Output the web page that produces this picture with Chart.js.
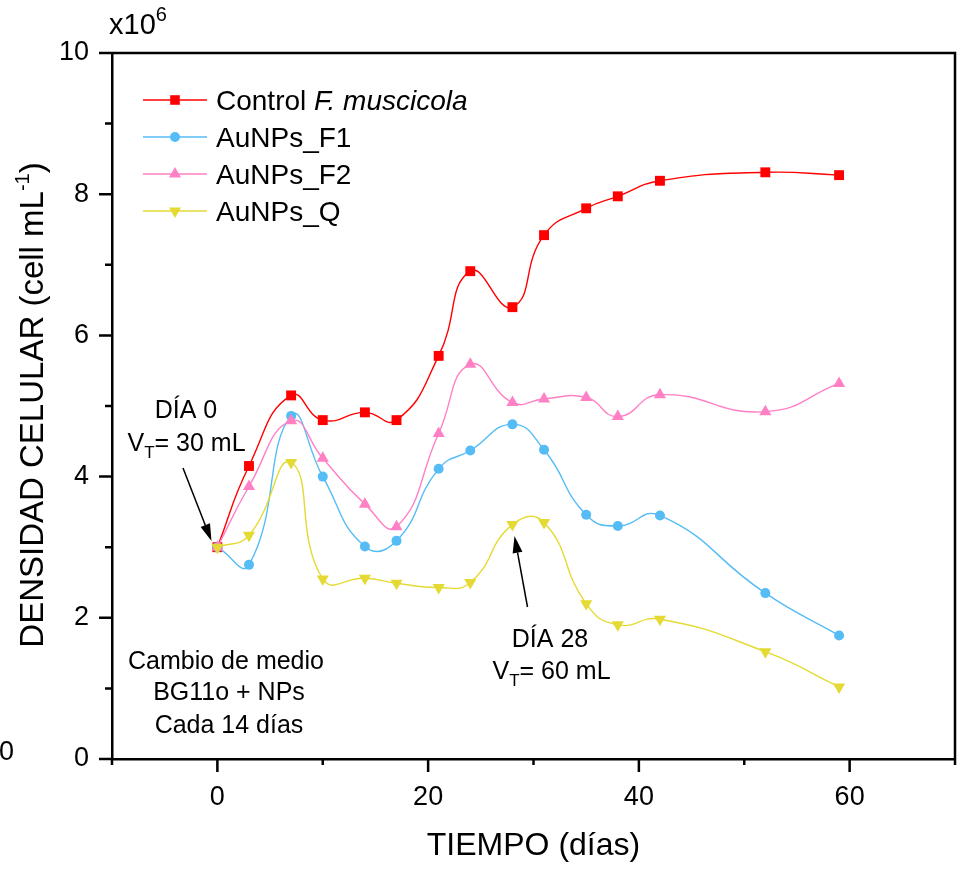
<!DOCTYPE html>
<html>
<head>
<meta charset="utf-8">
<script src="https://cdn.jsdelivr.net/npm/chart.js@4.4.0/dist/chart.umd.min.js"></script>
<style>
  html, body { margin: 0; padding: 0; background: #fff; }
  #wrap { width: 962px; height: 871px; }
</style>
</head>
<body>
<div id="wrap"><canvas id="densityChart" width="962" height="871"></canvas></div>
<script>
// days of culture
const days = [0, 3, 7, 10, 14, 17, 21, 24, 28, 31, 35, 38, 42, 52, 59];

// cell density, x10^6 cell/mL
const controlFm = [3.00, 4.15, 5.15, 4.80, 4.91, 4.80, 5.71, 6.91, 6.40, 7.42, 7.80, 7.97, 8.19, 8.31, 8.27];
const aunpsF1   = [3.00, 2.75, 4.86, 4.00, 3.01, 3.09, 4.11, 4.37, 4.74, 4.38, 3.46, 3.30, 3.45, 2.35, 1.75];
const aunpsF2   = [3.00, 3.86, 4.79, 4.26, 3.61, 3.29, 4.61, 5.59, 5.05, 5.10, 5.12, 4.85, 5.16, 4.92, 5.32];
const aunpsQ    = [3.00, 3.17, 4.20, 2.55, 2.56, 2.49, 2.43, 2.50, 3.32, 3.35, 2.20, 1.90, 1.98, 1.52, 1.02];

const xTickLabels = [0, 20, 40, 60];
const yTickLabels = [0, 2, 4, 6, 8, 10];

const FONT = '"Liberation Sans", Arial, Helvetica, sans-serif';
const RED = '#FF0000', BLUE = '#55BCF6', PINK = '#FF80C4', YELLOW = '#E4DA33';

function toPoints(values) {
  return days.map((d, i) => ({ x: d, y: values[i] }));
}

function drawMarker(ctx, style, x, y, color) {
  ctx.fillStyle = color;
  ctx.beginPath();
  if (style === 'rect') {
    ctx.rect(x - 4.8, y - 4.8, 9.6, 9.6);
  } else if (style === 'circle') {
    ctx.arc(x, y, 5, 0, Math.PI * 2);
  } else {
    const r = 7, s = style === 'down' ? -1 : 1;
    ctx.moveTo(x, y - s * r);
    ctx.lineTo(x + r * 0.866, y + s * r / 2);
    ctx.lineTo(x - r * 0.866, y + s * r / 2);
    ctx.closePath();
  }
  ctx.fill();
}

function fontOf(p) {
  return (p.italic ? 'italic ' : '') + p.size + 'px ' + FONT;
}

function drawRich(ctx, parts, x, y, align) {
  let w = 0;
  parts.forEach(p => { ctx.font = fontOf(p); w += ctx.measureText(p.t).width; });
  let cx = align === 'center' ? x - w / 2 : x;
  ctx.textAlign = 'left';
  parts.forEach(p => {
    ctx.font = fontOf(p);
    ctx.fillText(p.t, cx, y + (p.dy || 0));
    cx += ctx.measureText(p.t).width;
  });
  return w;
}

function drawArrow(ctx, x1, y1, x2, y2) {
  const ang = Math.atan2(y2 - y1, x2 - x1);
  const len = 17, half = 5;
  const bx = x2 - len * Math.cos(ang), by = y2 - len * Math.sin(ang);
  ctx.strokeStyle = '#000';
  ctx.lineWidth = 1.5;
  ctx.beginPath();
  ctx.moveTo(x1, y1);
  ctx.lineTo(bx, by);
  ctx.stroke();
  ctx.fillStyle = '#000';
  ctx.beginPath();
  ctx.moveTo(x2, y2);
  ctx.lineTo(bx + half * Math.sin(ang), by - half * Math.cos(ang));
  ctx.lineTo(bx - half * Math.sin(ang), by + half * Math.cos(ang));
  ctx.closePath();
  ctx.fill();
}

// frame, tick marks, legend and notes
const decorPlugin = {
  id: 'decor',
  afterDraw(chart) {
    const ctx = chart.ctx;
    const area = chart.chartArea;
    const xs = chart.scales.x, ys = chart.scales.y;
    ctx.save();

    // top and right frame lines
    ctx.strokeStyle = '#000';
    ctx.lineWidth = 2.5;
    ctx.beginPath();
    ctx.moveTo(area.left, area.top);
    ctx.lineTo(area.right, area.top);
    ctx.lineTo(area.right, area.bottom);
    ctx.stroke();

    // ticks, major ones are labelled
    ctx.beginPath();
    ys.ticks.forEach(t => {
      const py = ys.getPixelForValue(t.value);
      const len = yTickLabels.includes(t.value) ? 13 : 7;
      ctx.moveTo(area.left - len, py);
      ctx.lineTo(area.left, py);
    });
    xs.ticks.forEach(t => {
      const px = xs.getPixelForValue(t.value);
      const len = xTickLabels.includes(t.value) ? 13 : 6;
      ctx.moveTo(px, area.bottom);
      ctx.lineTo(px, area.bottom + len);
    });
    ctx.stroke();

    ctx.fillStyle = '#000';
    ctx.textBaseline = 'alphabetic';

    // multiplier
    drawRich(ctx, [{ t: 'x10', size: 29 }, { t: '6', size: 20, dy: -13 }], 109, 34, 'left');

    // stray label at the far left
    ctx.font = '27px ' + FONT;
    ctx.fillText('0', -1, 760);

    // y axis title with superscript
    ctx.save();
    ctx.translate(43, 405);
    ctx.rotate(-Math.PI / 2);
    const yTitle = [
      { t: 'DENSIDAD CELULAR (cell mL', size: 33 },
      { t: '-1', size: 20, dy: -14 },
      { t: ')', size: 33 }
    ];
    ctx.fillStyle = '#000';
    drawRich(ctx, yTitle, 0, 0, 'center');
    ctx.restore();

    // legend
    const rows = [
      { parts: [{ t: 'Control ', size: 28 }, { t: 'F. muscicola', size: 28, italic: true }], color: RED, style: 'rect' },
      { parts: [{ t: 'AuNPs_F1', size: 28 }], color: BLUE, style: 'circle' },
      { parts: [{ t: 'AuNPs_F2', size: 28 }], color: PINK, style: 'up' },
      { parts: [{ t: 'AuNPs_Q', size: 28 }], color: YELLOW, style: 'down' }
    ];
    rows.forEach((row, i) => {
      const cy = 100 + i * 37;
      ctx.strokeStyle = row.color;
      ctx.lineWidth = 1.5;
      ctx.beginPath();
      ctx.moveTo(143, cy);
      ctx.lineTo(207, cy);
      ctx.stroke();
      drawMarker(ctx, row.style, 175, cy, row.color);
      ctx.fillStyle = '#000';
      drawRich(ctx, row.parts, 216, cy + 10, 'left');
    });

    // notes
    ctx.fillStyle = '#000';
    drawRich(ctx, [{ t: 'DÍA 0', size: 25 }], 186, 418, 'center');
    drawRich(ctx, [{ t: 'V', size: 25 }, { t: 'T', size: 17, dy: 7 }, { t: '= 30 mL', size: 25 }], 186.5, 451, 'center');
    drawRich(ctx, [{ t: 'DÍA 28', size: 25 }], 550, 647, 'center');
    drawRich(ctx, [{ t: 'V', size: 25 }, { t: 'T', size: 17, dy: 7 }, { t: '= 60 mL', size: 25 }], 551.5, 679, 'center');
    drawRich(ctx, [{ t: 'Cambio de medio', size: 25 }], 226, 669, 'center');
    drawRich(ctx, [{ t: 'BG11o + NPs', size: 25 }], 229, 700, 'center');
    drawRich(ctx, [{ t: 'Cada 14 días', size: 25 }], 229, 733, 'center');

    drawArrow(ctx, 183, 468, 211.5, 541);
    drawArrow(ctx, 527.5, 607, 514.5, 536);

    ctx.restore();
  }
};

const common = {
  borderWidth: 1.4,
  tension: 0.5,
  fill: false,
  pointBorderWidth: 0
};

const ctx = document.getElementById('densityChart').getContext('2d');

const densityChart = new Chart(ctx, {
  type: 'line',
  data: {
    datasets: [
      { ...common, label: 'Control F. muscicola', data: toPoints(controlFm), borderColor: RED, backgroundColor: RED,
        pointStyle: 'rect', pointRadius: 7, order: 4 },
      { ...common, label: 'AuNPs_F1', data: toPoints(aunpsF1), borderColor: BLUE, backgroundColor: BLUE,
        pointStyle: 'circle', pointRadius: 5, order: 3 },
      { ...common, label: 'AuNPs_F2', data: toPoints(aunpsF2), borderColor: PINK, backgroundColor: PINK,
        pointStyle: 'triangle', pointRadius: 7, order: 2 },
      { ...common, label: 'AuNPs_Q', data: toPoints(aunpsQ), borderColor: YELLOW, backgroundColor: YELLOW,
        pointStyle: 'triangle', pointRotation: 180, pointRadius: 7, order: 1 }
    ]
  },
  options: {
    responsive: false,
    animation: false,
    devicePixelRatio: 1,
    layout: { padding: { top: 53, right: 7, left: 0, bottom: 0 } },
    plugins: {
      legend: { display: false },
      tooltip: { enabled: false }
    },
    scales: {
      x: {
        type: 'linear',
        min: -10,
        max: 70,
        afterFit: s => { s.height = 112; s.paddingLeft = 0; s.paddingRight = 0; },
        border: { display: true, color: '#000', width: 2.5 },
        grid: { drawOnChartArea: false, drawTicks: false },
        ticks: {
          stepSize: 10,
          autoSkip: false,
          maxRotation: 0,
          padding: 22,
          color: '#000',
          font: { family: FONT, size: 27 },
          callback: v => xTickLabels.includes(v) ? String(v) : ''
        },
        title: {
          display: true,
          text: 'TIEMPO (días)',
          color: '#000',
          font: { family: FONT, size: 32 },
          padding: { top: 0, bottom: 6 }
        }
      },
      y: {
        min: 0,
        max: 10,
        afterFit: s => { s.width = 112; s.paddingTop = 0; s.paddingBottom = 0; },
        border: { display: true, color: '#000', width: 2.5 },
        grid: { drawOnChartArea: false, drawTicks: false },
        ticks: {
          stepSize: 1,
          autoSkip: false,
          padding: 23,
          color: '#000',
          font: { family: FONT, size: 27 },
          callback: v => yTickLabels.includes(v) ? String(v) : ''
        }
      }
    }
  },
  plugins: [decorPlugin]
});
</script>
</body>
</html>
